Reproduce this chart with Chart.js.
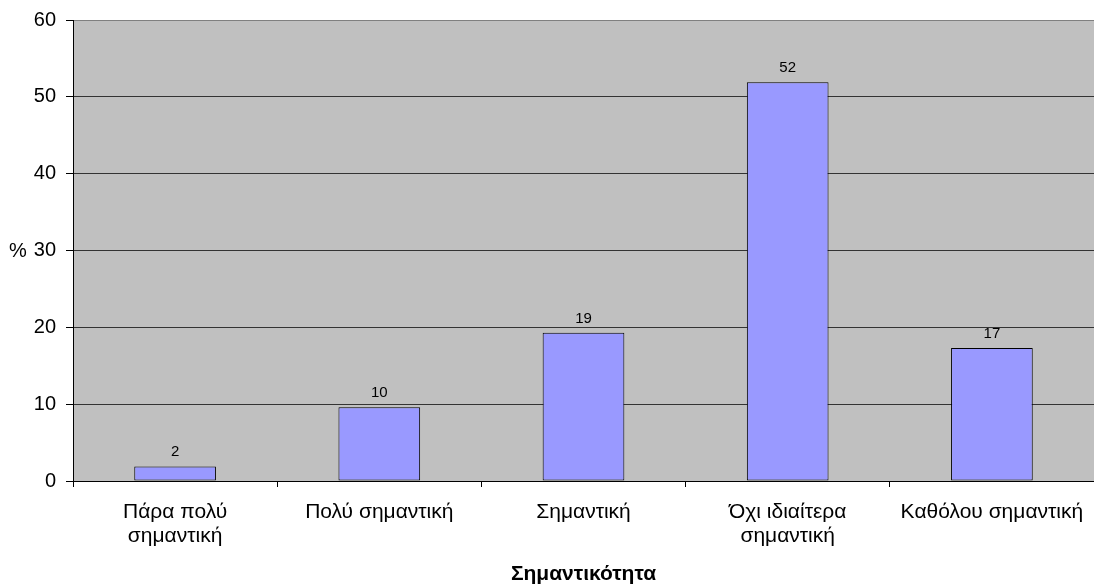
<!DOCTYPE html>
<html lang="el">
<head>
<meta charset="utf-8">
<title>Σημαντικότητα</title>
<script src="https://cdn.jsdelivr.net/npm/chart.js@4/dist/chart.umd.min.js"></script>
<style>
  html, body { margin: 0; padding: 0; background: #fff; }
  #wrap { width: 1094px; height: 587px; }
</style>
</head>
<body>
<div id="wrap"><canvas id="chart" width="1094" height="587"></canvas></div>
<script>
// Response categories (x axis)
const categories = [
  ['Πάρα πολύ', 'σημαντική'],
  'Πολύ σημαντική',
  'Σημαντική',
  ['Όχι ιδιαίτερα', 'σημαντική'],
  'Καθόλου σημαντική'
];
// Share of respondents per category, %
const shares = [1.9, 9.6, 19.3, 51.9, 17.3];
// Value axis ticks
const yTicks = [0, 10, 20, 30, 40, 50, 60];

const FONT = "'Liberation Sans', Arial, sans-serif";

// Grey plot background
const plotBackground = {
  id: 'plotBackground',
  beforeDraw(chart) {
    const { ctx, chartArea: a } = chart;
    ctx.save();
    ctx.fillStyle = '#C0C0C0';
    ctx.fillRect(a.left, a.top, a.right - a.left, a.bottom - a.top);
    ctx.restore();
  }
};

// Rounded value above each bar, plus the unrotated "%" axis label
const annotations = {
  id: 'annotations',
  afterDatasetsDraw(chart) {
    const { ctx } = chart;
    const meta = chart.getDatasetMeta(0);
    ctx.save();
    ctx.fillStyle = '#000';
    ctx.font = '15px ' + FONT;
    ctx.textAlign = 'center';
    ctx.textBaseline = 'alphabetic';
    meta.data.forEach((bar, i) => {
      ctx.fillText(String(Math.round(shares[i])), bar.x, bar.y - 10);
    });
    const y = chart.scales.y;
    ctx.font = '20px ' + FONT;
    ctx.textBaseline = 'middle';
    ctx.fillText('%', 18, (y.top + y.bottom) / 2 + 1);
    ctx.restore();
  }
};

new Chart(document.getElementById('chart'), {
  type: 'bar',
  data: {
    labels: categories,
    datasets: [{
      data: shares,
      backgroundColor: '#9999FF',
      borderColor: '#000',
      borderWidth: 1,
      borderSkipped: false,
      categoryPercentage: 1,
      barPercentage: 0.4
    }]
  },
  options: {
    responsive: false,
    devicePixelRatio: 1,
    animation: false,
    events: [],
    layout: { padding: { left: 0, right: 0, top: 20, bottom: 0 } },
    plugins: {
      legend: { display: false },
      title: { display: false },
      tooltip: { enabled: false }
    },
    scales: {
      x: {
        grid: {
          offset: true,
          drawOnChartArea: false,
          drawTicks: true,
          tickLength: 6,
          color: '#000'
        },
        border: { display: true, color: '#000', width: 1 },
        ticks: {
          color: '#000',
          font: { family: FONT, size: 21, lineHeight: 1.15 },
          padding: 13,
          maxRotation: 0,
          autoSkip: false
        },
        title: {
          display: true,
          text: 'Σημαντικότητα',
          color: '#000',
          font: { family: FONT, size: 21, weight: 'bold', lineHeight: 1.05 },
          padding: { top: 0, bottom: 2 }
        },
        afterFit(scale) {
          scale.height = 106;
          scale.paddingLeft = 0;
          scale.paddingRight = 0;
        }
      },
      y: {
        min: 0,
        max: 60,
        afterBuildTicks(scale) { scale.ticks = yTicks.map(v => ({ value: v })); },
        grid: {
          color: ctx => (ctx.tick && ctx.tick.value === 60 ? '#808080' : '#333'),
          tickColor: '#000',
          lineWidth: 1,
          drawTicks: true,
          tickLength: 7
        },
        border: { display: true, color: '#000', width: 1 },
        ticks: {
          color: '#000',
          font: { family: FONT, size: 20 },
          padding: 10
        },
        afterFit(scale) {
          scale.width = 73;
          scale.paddingTop = 0;
          scale.paddingBottom = 0;
        }
      }
    }
  },
  plugins: [plotBackground, annotations]
});
</script>
</body>
</html>
